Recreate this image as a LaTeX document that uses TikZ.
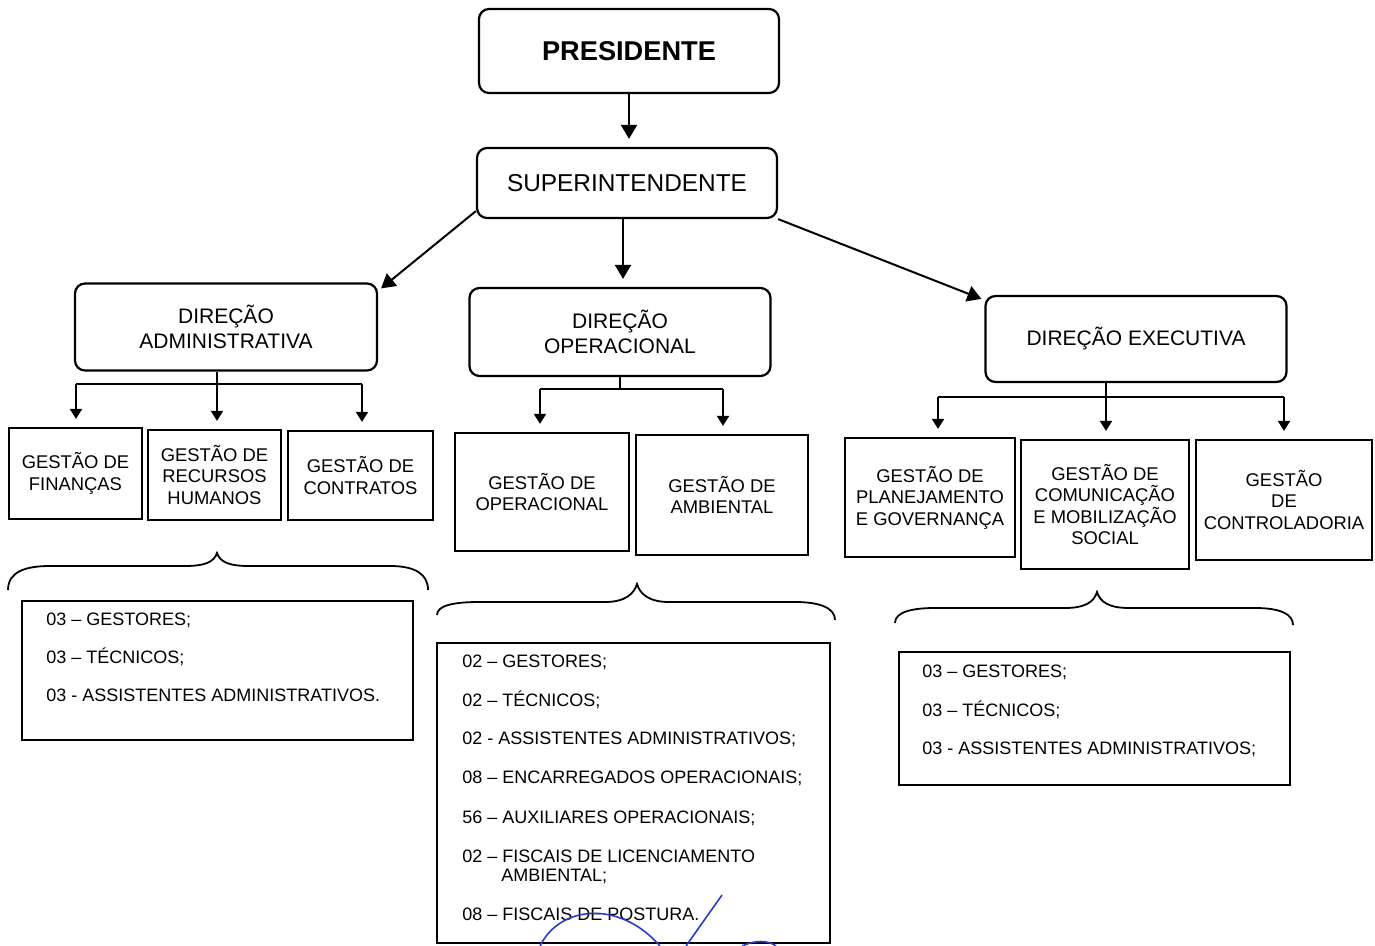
\documentclass[tikz,border=0pt]{standalone}
\usepackage{fontspec}
\setmainfont{Liberation Sans}
\usetikzlibrary{arrows.meta,calc}
\begin{document}
\begin{tikzpicture}[x=0.5pt,y=-0.5pt,
  topbox/.style={draw, line width=1.1pt, rounded corners=5pt, align=center, inner sep=0pt},
  gbox/.style={draw, line width=1.1pt, align=center, inner sep=0pt, font=\fontsize{9.2}{10.8}\selectfont},
  lbox/.style={draw, line width=1.1pt, inner sep=0pt},
  ltxt/.style={anchor=base west, inner sep=0pt, font=\fontsize{9}{10.8}\selectfont},
  conn/.style={line width=1pt},
  bigarr/.style={line width=1pt, -{Triangle[width=8pt,length=7pt]}},
  smarr/.style={line width=1pt, -{Triangle[width=6pt,length=5pt]}},
  brace/.style={line width=0.9pt},
  sig/.style={line width=0.8pt, draw={rgb,255:red,40;green,60;blue,200}}
]
\useasboundingbox (0,0) rectangle (1375,946);

% top level
\node[topbox, minimum width=150pt, minimum height=42pt, font=\fontsize{13.6}{16}\selectfont\bfseries] (P) at (629,51) {PRESIDENTE};
\node[topbox, minimum width=150pt, minimum height=35pt, font=\fontsize{12.2}{14}\selectfont] (S) at (627,183) {SUPERINTENDENTE};

\node[topbox, minimum width=151pt, minimum height=43.5pt, font=\fontsize{10.5}{12.5}\selectfont] (DA) at (226,327) {DIREÇÃO\\ADMINISTRATIVA};
\node[topbox, minimum width=150.5pt, minimum height=44pt, font=\fontsize{10.5}{12.5}\selectfont] (DO) at (620,332) {DIREÇÃO\\OPERACIONAL};
\node[topbox, minimum width=150.5pt, minimum height=43pt, font=\fontsize{10.5}{12.5}\selectfont] (DE) at (1136,339) {DIREÇÃO EXECUTIVA};

% arrows from top
\draw[bigarr] (P.south) -- ([yshift=4pt]P.south |- S.north);
\draw[bigarr] ([yshift=4pt]S.south west) -- ([xshift=1.5pt,yshift=-3pt]DA.north east);
\draw[bigarr] ([xshift=-2pt]S.south) -- ([xshift=-2pt,yshift=4pt]S.south |- DO.north);
\draw[bigarr] (S.south east) -- ([xshift=-1.5pt,yshift=-2pt]DE.north west);

% gestao boxes
\node[gbox, minimum width=66.5pt, minimum height=45.5pt] (GF) at (75.5,473.5) {GESTÃO DE\\FINANÇAS};
\node[gbox, minimum width=66.5pt, minimum height=45pt] (GR) at (214.5,475) {GESTÃO DE\\RECURSOS\\HUMANOS};
\node[gbox, minimum width=72.5pt, minimum height=44.5pt] (GC) at (360.5,475.5) {GESTÃO DE\\CONTRATOS};

\node[gbox, minimum width=87pt, minimum height=59pt] (GO) at (542,492) {GESTÃO DE\\OPERACIONAL};
\node[gbox, minimum width=86pt, minimum height=60pt] (GA) at (722,495) {GESTÃO DE\\AMBIENTAL};

\node[gbox, minimum width=85pt, minimum height=59.5pt] (GP) at (930,497.5) {GESTÃO DE\\PLANEJAMENTO\\E GOVERNANÇA};
\node[gbox, minimum width=84pt, minimum height=64.5pt] (GM) at (1105,504.5) {GESTÃO DE\\COMUNICAÇÃO\\E MOBILIZAÇÃO\\SOCIAL};
\node[gbox, minimum width=88pt, minimum height=60pt] (GT) at (1284,500) {GESTÃO\\DE\\CONTROLADORIA};

% tree under DA
\coordinate (daL) at (76,384);
\coordinate (daM) at (217,384);
\coordinate (daR) at (362,384);
\draw[conn] (DA.south -| daM) -- (daM);
\draw[conn] (daL) -- (daR);
\draw[smarr] (daL) -- ([yshift=4pt]daL |- GF.north);
\draw[smarr] (daM) -- ([yshift=4pt]daM |- GR.north);
\draw[smarr] (daR) -- ([yshift=4pt]daR |- GC.north);

% tree under DO
\coordinate (doL) at (540,389);
\coordinate (doM) at (620,389);
\coordinate (doR) at (723,389);
\draw[conn] (DO.south -| doM) -- (doM);
\draw[conn] (doL) -- (doR);
\draw[smarr] (doL) -- ([yshift=4pt]doL |- GO.north);
\draw[smarr] (doR) -- ([yshift=4pt]doR |- GA.north);

% tree under DE
\coordinate (deL) at (938,397);
\coordinate (deM) at (1106,397);
\coordinate (deR) at (1284,397);
\draw[conn] (DE.south -| deM) -- (deM);
\draw[conn] (deL) -- (deR);
\draw[smarr] (deL) -- ([yshift=4pt]deL |- GP.north);
\draw[smarr] (deM) -- ([yshift=4pt]deM |- GM.north);
\draw[smarr] (deR) -- ([yshift=4pt]deR |- GT.north);

% braces
\draw[brace] (8,590) .. controls (8,572) and (25,566) .. (50,566) -- (185,566)
  .. controls (205,566) and (214,562) .. (217,553)
  .. controls (220,562) and (229,566) .. (249,566) -- (390,566)
  .. controls (415,566) and (428,574) .. (428,590);
\draw[brace] (437,615) .. controls (437,605) and (455,602) .. (480,602) -- (605,602)
  .. controls (625,602) and (634,594) .. (637,584)
  .. controls (640,594) and (649,602) .. (669,602) -- (795,602)
  .. controls (820,602) and (835,608) .. (835,620);
\draw[brace] (895,623) .. controls (895,612) and (912,608) .. (935,608) -- (1065,608)
  .. controls (1085,608) and (1094,602) .. (1097,592)
  .. controls (1100,602) and (1109,608) .. (1129,608) -- (1255,608)
  .. controls (1280,608) and (1293,614) .. (1293,625);

% list boxes
\node[lbox, minimum width=195.5pt, minimum height=69.5pt] (LA) at (217.5,670.5) {};
\node[lbox, minimum width=196.5pt, minimum height=150pt] (LO) at (633.5,793) {};
\node[lbox, minimum width=195.5pt, minimum height=66.5pt] (LE) at (1094.5,718.5) {};

\node[ltxt] (la1) at (46,625) {03 – GESTORES;};
\node[ltxt] (la2) at (46,663) {03 – TÉCNICOS;};
\node[ltxt] (la3) at (46,701) {03 - ASSISTENTES ADMINISTRATIVOS.};

\node[ltxt] (lo1) at (462,667) {02 – GESTORES;};
\node[ltxt] (lo2) at (462,706) {02 – TÉCNICOS;};
\node[ltxt] (lo3) at (462,744) {02 - ASSISTENTES ADMINISTRATIVOS;};
\node[ltxt] (lo4) at (462,783) {08 – ENCARREGADOS OPERACIONAIS;};
\node[ltxt] (lo5) at (462,823) {56 – AUXILIARES OPERACIONAIS;};
\node[ltxt] (lo6) at (462,862) {02 – FISCAIS DE LICENCIAMENTO};
\node[ltxt] (lo7) at (501,881) {AMBIENTAL;};
\node[ltxt] (lo8) at (462,920) {08 – FISCAIS DE POSTURA.};

\node[ltxt] (le1) at (922,677) {03 – GESTORES;};
\node[ltxt] (le2) at (922,716) {03 – TÉCNICOS;};
\node[ltxt] (le3) at (922,754) {03 - ASSISTENTES ADMINISTRATIVOS;};

% signature strokes
\draw[sig] (540,946) .. controls (560,905) and (620,900) .. (660,946);
\draw[sig] (686,946) -- (722,895);
\draw[sig] (742,946) .. controls (755,940) and (768,940) .. (776,946);
\end{tikzpicture}
\end{document}
